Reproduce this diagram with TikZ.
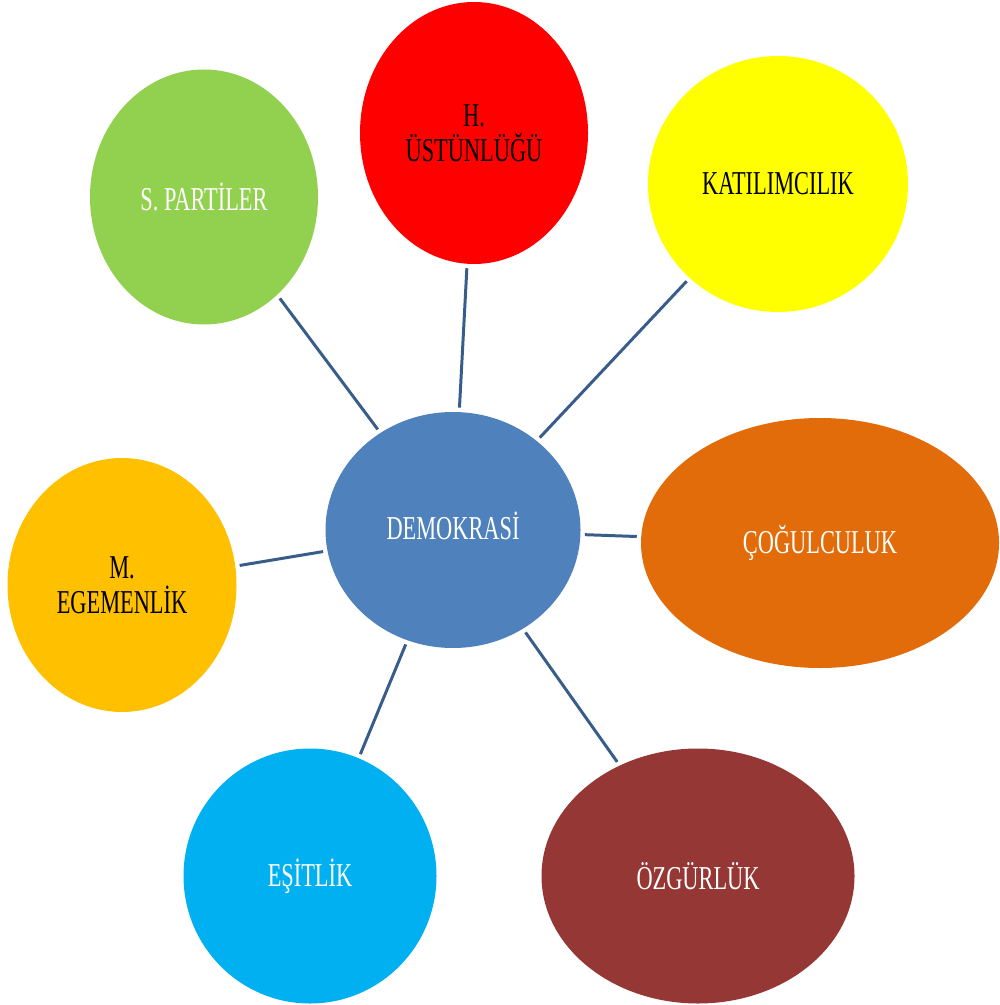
\documentclass[tikz,border=0pt]{standalone}
\usepackage{fontspec}
\usetikzlibrary{shapes.geometric}
\newfontfamily\condserif[FakeStretch=0.67]{Liberation Serif}
\definecolor{hubblue}{RGB}{79,129,189}
\definecolor{linkblue}{RGB}{56,93,138}
\definecolor{leafgreen}{RGB}{146,208,80}
\definecolor{leafred}{RGB}{255,0,0}
\definecolor{leafyellow}{RGB}{255,255,0}
\definecolor{leaforange}{RGB}{227,108,10}
\definecolor{leafamber}{RGB}{255,192,0}
\definecolor{leafcyan}{RGB}{0,176,240}
\definecolor{leafbrown}{RGB}{149,55,53}
\tikzset{
  bubble/.style = {ellipse, inner sep=0pt, outer sep=0pt, align=center,
                   font=\condserif\fontsize{19}{20}\selectfont},
  hub/.style    = {bubble, fill=hubblue, text=white},
  link/.style   = {draw=linkblue, line width=1.7pt, shorten <=0.9mm, shorten >=0.9mm},
}
\begin{document}
\begin{tikzpicture}
\useasboundingbox (0,0) rectangle (199.8mm,-201mm);

% ---- centre
\node[hub, minimum width=51mm, minimum height=47.2mm] (dem) at (90.6mm,-106mm)
  {\raisebox{1.6mm}{DEMOKRASİ}};

% ---- leaves, clockwise from top left
\node[bubble, fill=leafgreen, text=white, minimum width=45.6mm, minimum height=51mm]
  (spartiler) at (40.8mm,-39.4mm) {S. PARTİLER};
\node[bubble, fill=leafred, text=black, minimum width=45.6mm, minimum height=52.4mm]
  (hukuk) at (94.8mm,-26.6mm) {H.\\ÜSTÜNLÜĞÜ};
\node[bubble, fill=leafyellow, text=black, minimum width=52mm, minimum height=51.2mm]
  (katilim) at (155.6mm,-36.8mm) {KATILIMCILIK};
\node[bubble, fill=leaforange, text=white, minimum width=71.6mm, minimum height=50mm]
  (cogul) at (164mm,-108.6mm) {ÇOĞULCULUK};
\node[bubble, fill=leafbrown, text=white, minimum width=62.6mm, minimum height=51mm]
  (ozgur) at (139.6mm,-175.2mm) {ÖZGÜRLÜK};
\node[bubble, fill=leafcyan, text=white, minimum width=50.6mm, minimum height=51mm]
  (esit) at (62mm,-175.2mm) {EŞİTLİK};
\node[bubble, fill=leafamber, text=black, minimum width=45.8mm, minimum height=50.8mm]
  (milli) at (24.4mm,-117mm) {M.\\EGEMENLİK};

% ---- spokes
\foreach \leaf in {spartiler,hukuk,katilim,cogul,ozgur,esit,milli}
  \draw[link] (dem) -- (\leaf);

\end{tikzpicture}
\end{document}
